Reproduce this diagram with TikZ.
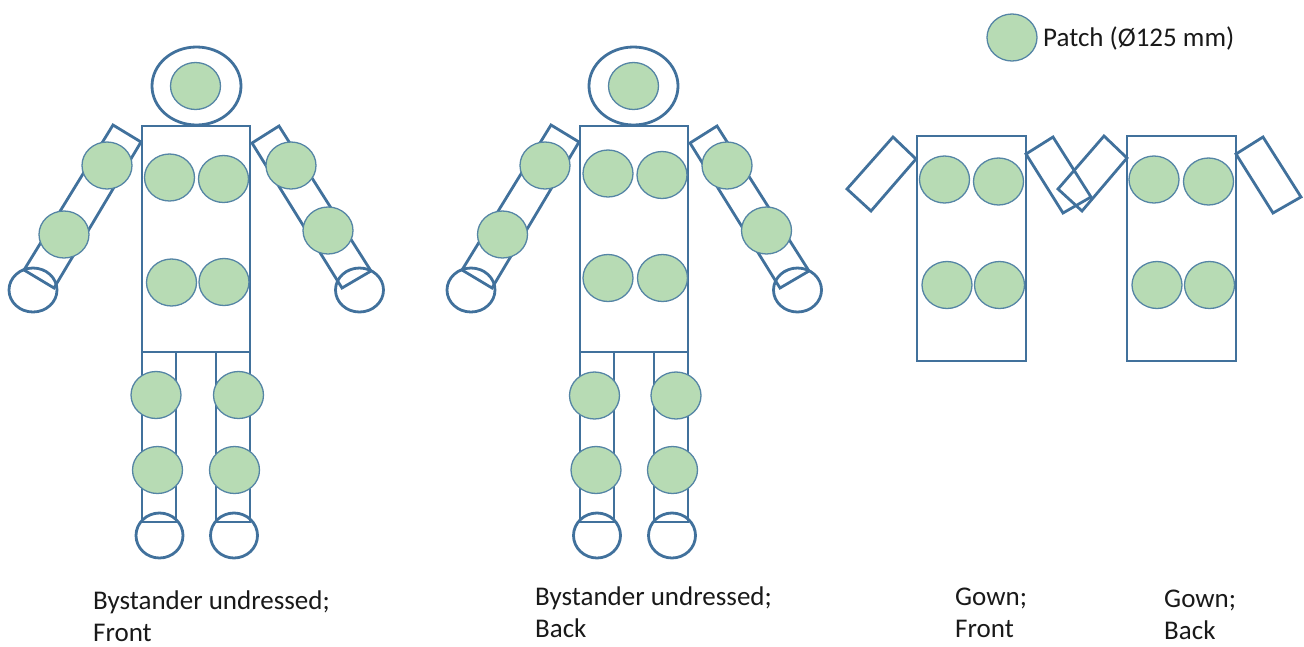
\documentclass[tikz,border=0pt]{standalone}
\usepackage{fontspec}
\setmainfont{Carlito}
\usetikzlibrary{shapes.geometric}
\definecolor{bodyblue}{RGB}{65,113,156}
\definecolor{patchgreen}{RGB}{183,219,180}
\definecolor{patchedge}{RGB}{85,133,165}
\begin{document}
\begin{tikzpicture}[x=1pt,y=-1pt,
  bodyline/.style={draw=bodyblue,line width=2.8pt},
  patch/.style={ellipse,draw=patchedge,fill=patchgreen,line width=1.3pt,
    minimum width=50pt,minimum height=47pt,inner sep=0pt},
  figlabel/.style={anchor=base west,align=left,inner sep=0pt,
    font=\fontsize{27pt}{32pt}\selectfont,text=black!90}]
\useasboundingbox (0,0) rectangle (1304,646);

% ---------- Figure 1: bystander front ----------
\draw[bodyline] (196.5,86) ellipse (44.5 and 39);
\draw[bodyline] (142,126) rectangle (250,352);
\draw[bodyline] (142,352) rectangle (176,522);
\draw[bodyline] (216,352) rectangle (250,522);
\draw[bodyline] (113,125) -- (141,142) -- (54,288) -- (24,270) -- cycle;
\draw[bodyline] (279,126) -- (252,143) -- (342,288) -- (371,271) -- cycle;
\draw[bodyline] (33,290) ellipse (24 and 22);
\draw[bodyline] (359.5,290) ellipse (24 and 22);
\draw[bodyline] (159.5,535.5) ellipse (23.5 and 22.5);
\draw[bodyline] (234,535.5) ellipse (23.5 and 22.5);

\node[patch] (f-head) at (195.5,86) {};
\node[patch] (f-t1) at (169.5,177.5) {};
\node[patch] (f-t2) at (223.5,179) {};
\node[patch] (f-t3) at (171.5,282.5) {};
\node[patch] (f-t4) at (224,282) {};
\node[patch] (f-la1) at (107,165.5) {};
\node[patch] (f-la2) at (64,234.5) {};
\node[patch] (f-ra1) at (291,165.5) {};
\node[patch] (f-ra2) at (328,230.5) {};
\node[patch] (f-ll1) at (156,395) {};
\node[patch] (f-rl1) at (238.5,395) {};
\node[patch] (f-ll2) at (157.5,470) {};
\node[patch] (f-rl2) at (234.5,470) {};

% ---------- Figure 2: bystander back ----------
\draw[bodyline] (633.5,86) ellipse (44.5 and 39);
\draw[bodyline] (580,126) rectangle (688,352);
\draw[bodyline] (580,352) rectangle (614,522);
\draw[bodyline] (654,352) rectangle (688,522);
\draw[bodyline] (551,125) -- (579,142) -- (492,288) -- (462,270) -- cycle;
\draw[bodyline] (717,126) -- (690,143) -- (780,288) -- (809,271) -- cycle;
\draw[bodyline] (471,290) ellipse (24 and 22);
\draw[bodyline] (797.5,290) ellipse (24 and 22);
\draw[bodyline] (597,535.5) ellipse (23.5 and 22.5);
\draw[bodyline] (672,535.5) ellipse (23.5 and 22.5);

\node[patch] (b-head) at (633.5,86) {};
\node[patch] (b-t1) at (608,173.5) {};
\node[patch] (b-t2) at (662,175) {};
\node[patch] (b-t3) at (608,278) {};
\node[patch] (b-t4) at (662.5,278) {};
\node[patch] (b-la1) at (545,165.5) {};
\node[patch] (b-la2) at (502.5,234.5) {};
\node[patch] (b-ra1) at (727,165.5) {};
\node[patch] (b-ra2) at (766.5,230.5) {};
\node[patch] (b-ll1) at (594.5,395.5) {};
\node[patch] (b-rl1) at (676,395.5) {};
\node[patch] (b-ll2) at (596,470) {};
\node[patch] (b-rl2) at (672.5,470) {};

% ---------- Gown front ----------
\draw[bodyline] (917,136) rectangle (1026,361);
\draw[bodyline] (893,137) -- (916,159) -- (871,211) -- (847,189) -- cycle;
\draw[bodyline] (1026,154) -- (1053,137) -- (1091,197) -- (1063,213) -- cycle;
\node[patch] (gf-1) at (944.5,179.5) {};
\node[patch] (gf-2) at (998.5,181.5) {};
\node[patch] (gf-3) at (947,285) {};
\node[patch] (gf-4) at (999.5,285) {};

% ---------- Gown back ----------
\draw[bodyline] (1127,136) rectangle (1236,361);
\draw[bodyline] (1104,136) -- (1127,158) -- (1082,211) -- (1058,189) -- cycle;
\draw[bodyline] (1236,154) -- (1263,137) -- (1301,197) -- (1273,213) -- cycle;
\node[patch] (gb-1) at (1154,179.5) {};
\node[patch] (gb-2) at (1208.5,181.5) {};
\node[patch] (gb-3) at (1157,285) {};
\node[patch] (gb-4) at (1209.5,285) {};

% ---------- Legend ----------
\node[patch] (legend) at (1012,37.5) {};
\node[figlabel] (legendtext) at (1043,46) {Patch (Ø125 mm)};

% ---------- Captions (anchor = baseline of last line) ----------
\node[figlabel] (cap1) at (93,641) {Bystander undressed;\\Front};
\node[figlabel] (cap2) at (535,637) {Bystander undressed;\\Back};
\node[figlabel] (cap3) at (955,637) {Gown;\\Front};
\node[figlabel] (cap4) at (1164,639) {Gown;\\Back};
\end{tikzpicture}
\end{document}
